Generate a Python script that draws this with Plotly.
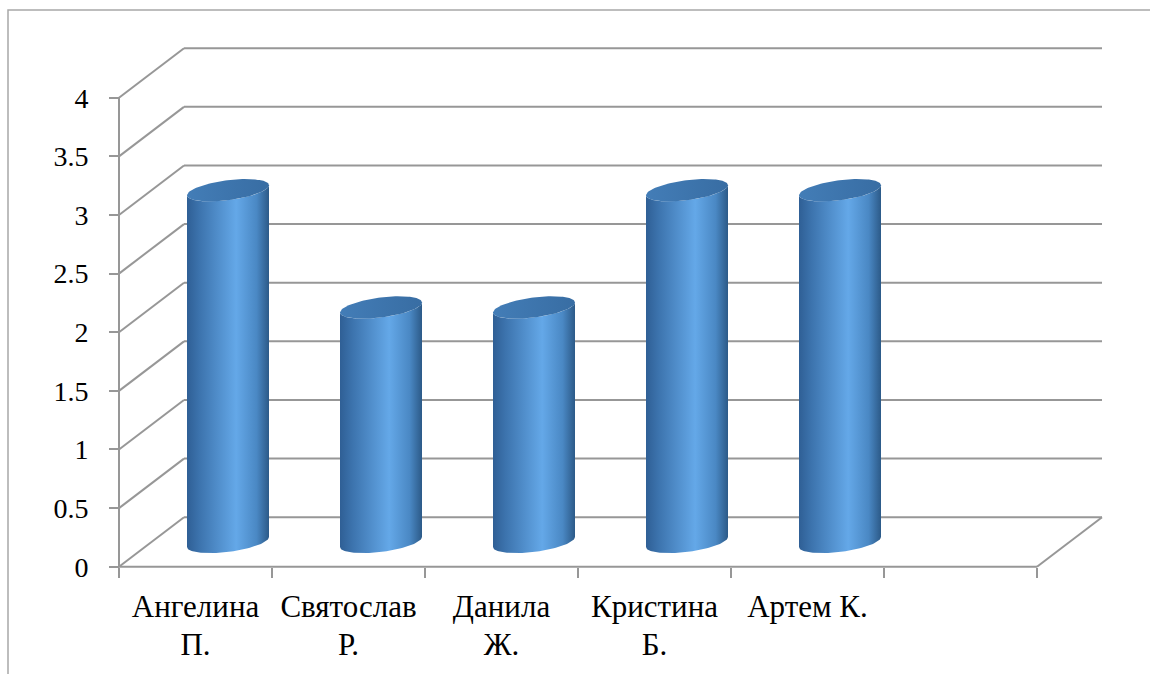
import numpy as np
import plotly.graph_objects as go

# ---- data ----
label_line1 = ["Ангелина", "Святослав", "Данила", "Кристина", "Артем К."]
label_line2 = ["П.", "Р.", "Ж.", "Б.", ""]
values = [3, 2, 2, 3, 3]
n_slots = 6  # one empty slot at the right, as in the original
y_ticks = [0, 0.5, 1, 1.5, 2, 2.5, 3, 3.5, 4]
y_ticktext = ["0", "0.5", "1", "1.5", "2", "2.5", "3", "3.5", "4"]

# ---- geometry / style (layout, not data) ----
W, H = 1150, 674
X0_PX, X_PX_PER = 119.0, 153.0      # pixel of x=0 and pixels per slot
Y0_PX, Y_PX_PER = 566.7, 117.25     # pixel of y=0 and pixels per unit
DX = 65.0 / X_PX_PER                # depth offset (data units)
DY = 49.5 / Y_PX_PER
A = 41.0 / X_PX_PER                 # cylinder half width
B = 10.0 / Y_PX_PER                 # ellipse half height
K = 5.0 / Y_PX_PER                  # ellipse tilt
GRID = "#979797"
FONT = "Liberation Serif"

xr = [-X0_PX / X_PX_PER, (W - X0_PX) / X_PX_PER]
yr = [-(H - Y0_PX) / Y_PX_PER, Y0_PX / Y_PX_PER]

fig = go.Figure()

shapes = []
ymax = y_ticks[-1]
for v in y_ticks:
    shapes.append(dict(type="line", xref="x", yref="y", x0=DX, y0=v + DY, x1=n_slots + DX, y1=v + DY,
                       line=dict(color=GRID, width=2), layer="below"))
    shapes.append(dict(type="line", xref="x", yref="y", x0=0, y0=v, x1=DX, y1=v + DY,
                       line=dict(color=GRID, width=2), layer="below"))
shapes.append(dict(type="line", xref="x", yref="y", x0=0, y0=0, x1=n_slots, y1=0,
                   line=dict(color=GRID, width=2), layer="below"))
shapes.append(dict(type="line", xref="x", yref="y", x0=n_slots, y0=0, x1=n_slots + DX, y1=DY,
                   line=dict(color=GRID, width=2), layer="below"))
shapes.append(dict(type="line", xref="x", yref="y", x0=0, y0=0, x1=0, y1=ymax,
                   line=dict(color=GRID, width=2), layer="below"))
shapes.append(dict(type="rect", xref="paper", yref="paper", x0=8 / W, y0=-0.2, x1=1.2, y1=1 - 10 / H,
                   line=dict(color="#a8a8a8", width=1.5), layer="below"))

body_scale = [[0, "#2f5f95"], [0.15, "#3c73ad"], [0.6, "#64a8e8"], [0.85, "#4a88c4"], [1, "#2c5a88"]]
top_scale = [[0, "#437db7"], [1, "#386da3"]]

t_low = np.linspace(np.pi, 2 * np.pi, 60)
t_full = np.linspace(0, 2 * np.pi, 120)
for i, v in enumerate(values):
    cx = i + 0.5 + DX / 2
    cb = DY / 2
    ct = v + DY / 2
    bx = cx + A * np.cos(t_low)
    by = cb + B * np.sin(t_low) + K * np.cos(t_low)
    tx = cx + A * np.cos(t_low[::-1])
    ty = ct + B * np.sin(t_low[::-1]) + K * np.cos(t_low[::-1])
    fig.add_trace(go.Scatter(
        x=np.concatenate([bx, tx, bx[:1]]), y=np.concatenate([by, ty, by[:1]]),
        mode="lines", fill="toself", line=dict(width=0),
        fillgradient=dict(type="horizontal", colorscale=body_scale),
        hoverinfo="skip", showlegend=False))
    ex = cx + A * np.cos(t_full)
    ey = ct + B * np.sin(t_full) + K * np.cos(t_full)
    fig.add_trace(go.Scatter(
        x=ex, y=ey, mode="lines", fill="toself", line=dict(width=0),
        fillgradient=dict(type="horizontal", colorscale=top_scale),
        hoverinfo="skip", showlegend=False))

# invisible trace so the second-line axis is drawn
fig.add_trace(go.Scatter(x=[None], y=[None], xaxis="x2", yaxis="y", mode="markers",
                         hoverinfo="skip", showlegend=False))

centers = [i + 0.5 for i in range(len(label_line1))]
common_x = dict(range=xr, domain=[0, 1], showgrid=False, zeroline=False, showline=False,
                anchor="free", position=1 - Y0_PX / H, tickangle=0, side="bottom")

fig.update_layout(
    width=W, height=H, margin=dict(l=0, r=0, t=0, b=0),
    paper_bgcolor="white", plot_bgcolor="white",
    shapes=shapes, showlegend=False,
    font=dict(family=FONT, color="black"),
    xaxis=dict(**common_x, tickvals=centers, ticktext=label_line1,
               ticks="outside", ticklen=0, tickfont=dict(size=31, family=FONT, color="black"),
               ticklabelstandoff=12,
               minor=dict(tickvals=list(range(n_slots + 1)), ticks="outside", ticklen=10,
                          tickcolor=GRID, tickwidth=2, showgrid=False)),
    xaxis2=dict(**common_x, overlaying="x", tickvals=centers, ticktext=label_line2,
                ticks="", tickfont=dict(size=31, family=FONT, color="black"),
                ticklabelstandoff=56),
    yaxis=dict(range=yr, domain=[0, 1], showgrid=False, zeroline=False, showline=False,
               anchor="free", position=X0_PX / W,
               tickvals=y_ticks, ticktext=y_ticktext, ticks="outside", ticklen=10,
               tickcolor=GRID, tickwidth=2, tickfont=dict(size=28, family=FONT, color="black"),
               ticklabelstandoff=15),
)

fig.write_html("out.html")
